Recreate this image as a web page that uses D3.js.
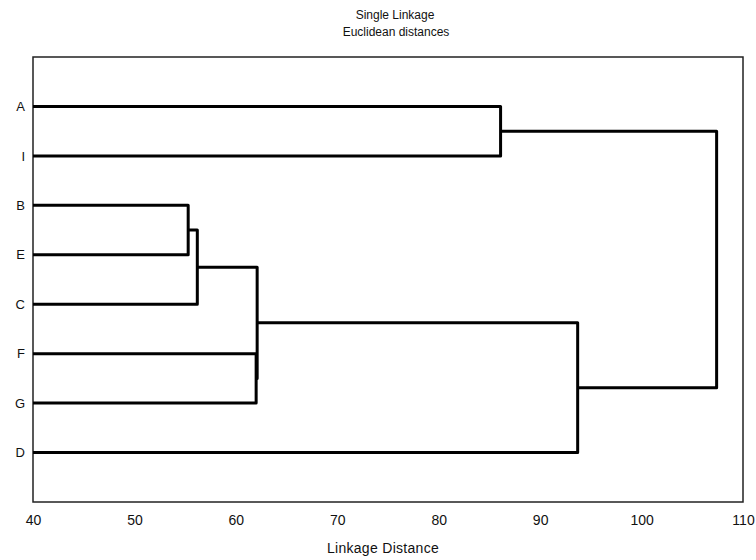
<!DOCTYPE html>
<html>
<head>
<meta charset="utf-8">
<script src="https://cdn.jsdelivr.net/npm/d3@7"></script>
<style>
  body { margin: 0; background: #fff; }
  svg text { font-family: "Liberation Sans", Arial, sans-serif; fill: #111; }
</style>
</head>
<body>
<div id="chart"></div>
<script>
// leaf order top to bottom
const leaves = ["A", "I", "B", "E", "C", "F", "G", "D"];
// each merge: [cluster a, cluster b, linkage distance]
const merges = [
  ["B", "E", 55.3],
  ["BE", "C", 56.2],
  ["F", "G", 62.0],
  ["BEC", "FG", 62.1],
  ["BECFG", "D", 93.7],
  ["A", "I", 86.1],
  ["AI", "BECFGD", 107.4],
];
const xTicks = [40, 50, 60, 70, 80, 90, 100, 110];

const width = 756;
const height = 560;
const margin = { top: 57, right: 13, bottom: 58, left: 33 };

const svg = d3.select("#chart")
  .append("svg")
  .attr("width", width)
  .attr("height", height);

const x = d3.scaleLinear().domain([40, 110]).range([margin.left, width - margin.right]);
const y = d3.scalePoint().domain(leaves).range([margin.top, height - margin.bottom]).padding(1);

// node positions: leaves sit at the left edge, clusters at their merge distance
const nodes = new Map();
leaves.forEach((l) => nodes.set(l, { y: y(l), h: 40 }));

const links = [];
merges.forEach(([a, b, h]) => {
  const na = nodes.get(a);
  const nb = nodes.get(b);
  links.push({ a: na, b: nb, h });
  nodes.set(a + b, { y: (na.y + nb.y) / 2, h });
});

// frame
svg.append("rect")
  .attr("x", x(40))
  .attr("y", margin.top)
  .attr("width", x(110) - x(40))
  .attr("height", height - margin.bottom - margin.top)
  .attr("fill", "none")
  .attr("stroke", "#222")
  .attr("stroke-width", 1.5);

svg.append("g")
  .selectAll("path")
  .data(links)
  .join("path")
  .attr("fill", "none")
  .attr("stroke", "#000")
  .attr("stroke-width", 3)
  .attr("stroke-linejoin", "round")
  .attr("d", (d) => {
    const xm = x(d.h);
    return `M${x(d.a.h)},${d.a.y}H${xm}V${d.b.y}H${x(d.b.h)}`;
  });

// y labels
const yAxis = svg.append("g")
  .attr("transform", `translate(${margin.left},0)`)
  .call(d3.axisLeft(y).tickSize(0).tickPadding(8));
yAxis.select(".domain").remove();
yAxis.selectAll("text")
  .style("font-size", "13px")
  .style("font-family", "Liberation Sans, Arial, sans-serif");

// x labels
const xAxis = svg.append("g")
  .attr("transform", `translate(0,${height - margin.bottom})`)
  .call(d3.axisBottom(x).tickValues(xTicks).tickSize(0).tickPadding(13));
xAxis.select(".domain").remove();
xAxis.selectAll("text")
  .style("font-size", "14px")
  .style("font-family", "Liberation Sans, Arial, sans-serif");

svg.append("text")
  .attr("x", 395)
  .attr("y", 19)
  .attr("text-anchor", "middle")
  .style("font-size", "12px")
  .text("Single Linkage");

svg.append("text")
  .attr("x", 396)
  .attr("y", 36)
  .attr("text-anchor", "middle")
  .style("font-size", "12px")
  .text("Euclidean distances");

svg.append("text")
  .attr("x", 383)
  .attr("y", 553)
  .attr("text-anchor", "middle")
  .style("font-size", "14px")
  .style("letter-spacing", "0.3px")
  .text("Linkage Distance");
</script>
</body>
</html>
